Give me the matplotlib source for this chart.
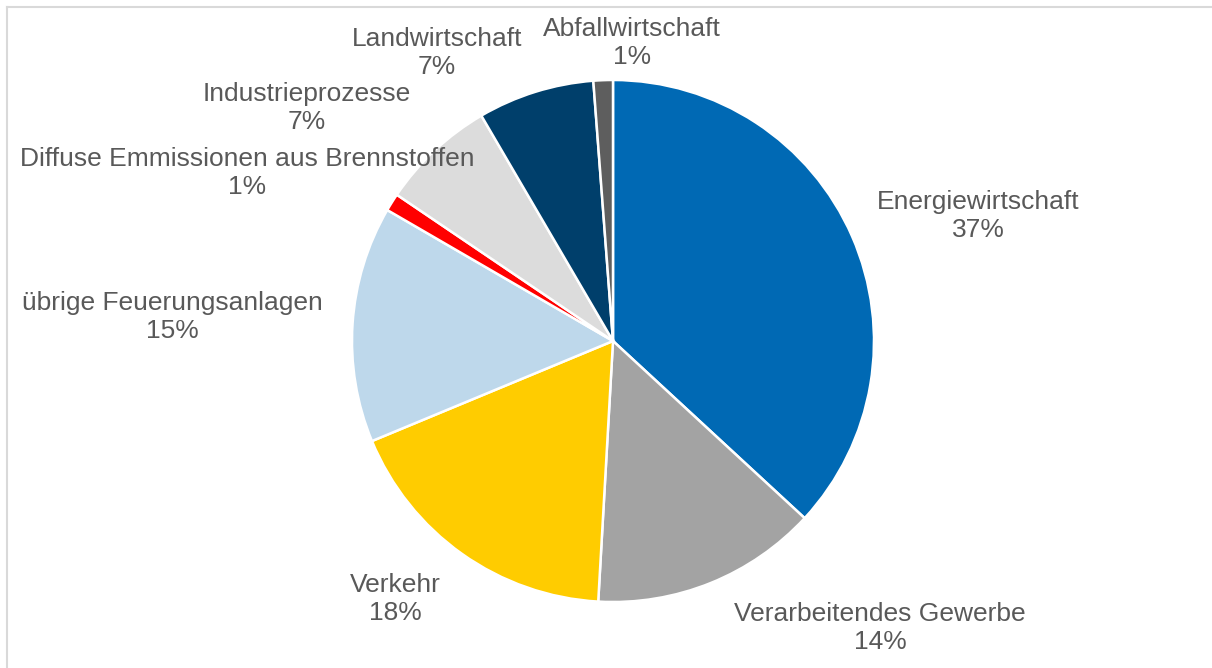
import matplotlib
matplotlib.use("Agg")
import matplotlib.pyplot as plt
from matplotlib.lines import Line2D

categories = ["Energiewirtschaft", "Verarbeitendes Gewerbe", "Verkehr",
              "übrige Feuerungsanlagen", "Diffuse Emmissionen aus Brennstoffen",
              "Industrieprozesse", "Landwirtschaft", "Abfallwirtschaft"]
values = [36.8, 14.0, 17.8, 14.6, 1.1, 7.1, 7.2, 1.2]
colors = ["#0069b4", "#a3a3a3", "#ffcc00", "#bed8eb", "#ff0000",
          "#dcdcdc", "#003f6b", "#5e5e5e"]

W, H = 1212, 668
fig = plt.figure(figsize=(W / 100, H / 100), dpi=100)
ax = fig.add_axes([0, 0, 1, 1])
ax.axis("off")

cx, cy, r = 613, 341, 261
total = sum(values)
ax.pie(values, colors=colors, startangle=90, counterclock=False,
       center=(cx, H - cy), radius=r,
       wedgeprops=dict(edgecolor="white", linewidth=1.8))
ax.set_xlim(0, W)
ax.set_ylim(0, H)
ax.set_aspect("equal")

# label anchor positions (pixel coords, y from top)
label_pos = [(978, 216), (880, 628), (395, 599), (172, 317),
             (247, 173), (307, 108), (437, 53), (632, 43)]
for cat, v, (lx, ly) in zip(categories, values, label_pos):
    ax.text(lx, H - ly, f"{cat}\n{v / total * 100:.0f}%", ha="center", va="center",
            fontsize=19, color="#595959", family="Liberation Sans",
            linespacing=1.25)

# light frame lines
ax.add_line(Line2D([6.5, W], [H - 7, H - 7], color="#d9d9d9", lw=1.5))
ax.add_line(Line2D([6.5, 6.5], [0, H - 7], color="#d9d9d9", lw=1.5))

fig.savefig("out.png", dpi=100)
